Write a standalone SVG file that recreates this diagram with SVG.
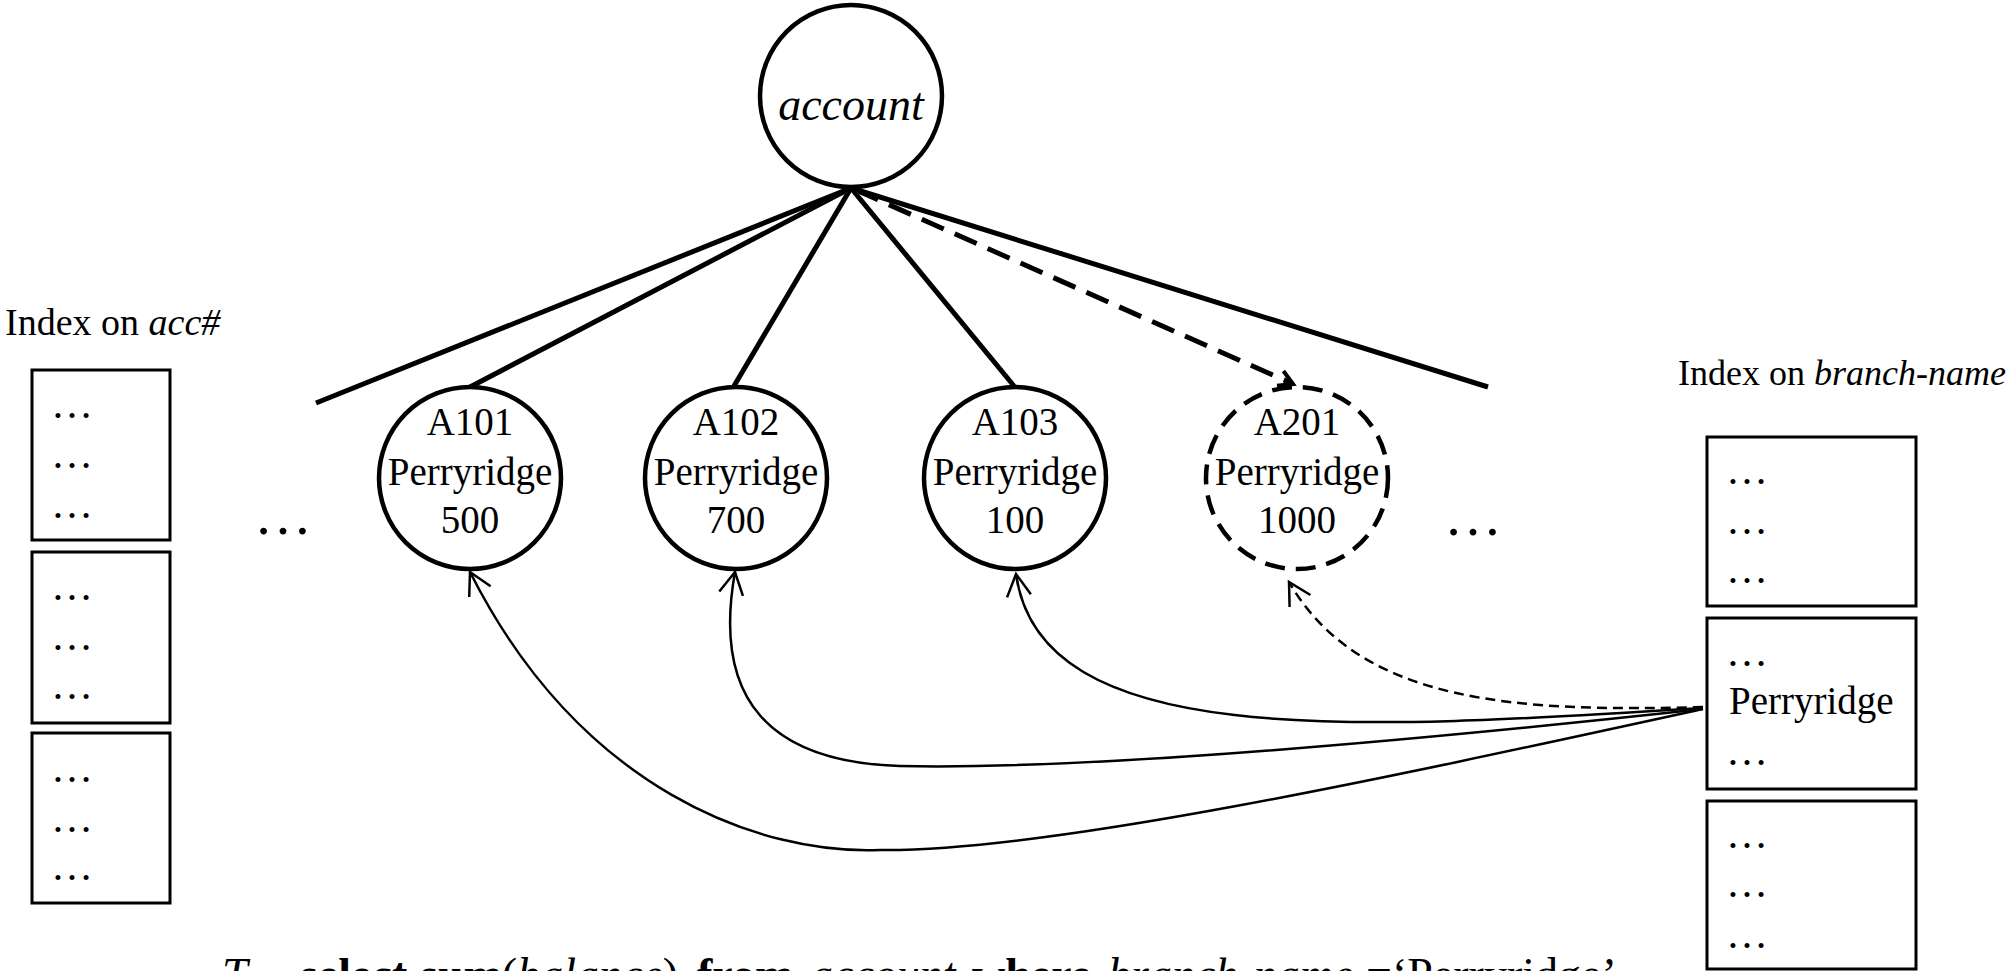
<svg xmlns="http://www.w3.org/2000/svg" width="2013" height="971" viewBox="0 0 2013 971">
<style>
  .t { font-family: "Liberation Serif", "Times New Roman", serif; fill: #000; }
  .it { font-style: italic; }
  .bd { font-weight: bold; }
  .node { fill: #fff; stroke: #000; stroke-width: 4.5; }
  .dnode { fill: #fff; stroke: #000; stroke-width: 4.5; stroke-dasharray: 20 11; }
  .box { fill: #fff; stroke: #000; stroke-width: 3; }
  .edge { stroke: #000; stroke-width: 5; fill: none; }
  .dedge { stroke: #000; stroke-width: 5; fill: none; stroke-dasharray: 24 12; }
  .ptr { stroke: #000; stroke-width: 2.5; fill: none; }
  .dptr { stroke: #000; stroke-width: 2.5; fill: none; stroke-dasharray: 10 6; }
  .lbl { font-size: 39px; text-anchor: middle; }
  .dots { font-size: 42px; }
  .bigdots { font-size: 58px; }
  .q { font-size: 46px; }
</style>
<defs>
  <marker id="open" markerUnits="userSpaceOnUse" markerWidth="30" markerHeight="30" viewBox="-24 -15 28 30" refX="0" refY="0" orient="auto">
    <path d="M -22 -12 L 0 0 L -22 12" fill="none" stroke="#000" stroke-width="2.5"/>
  </marker>
  <marker id="openThick" markerUnits="userSpaceOnUse" markerWidth="30" markerHeight="30" viewBox="-24 -15 28 30" refX="0" refY="0" orient="auto">
    <path d="M -14 -8 L 0 0 L -14 8" fill="none" stroke="#000" stroke-width="4"/>
  </marker>
</defs>

<g id="connectors">
  <line class="edge" x1="851" y1="188" x2="316" y2="403"/>
  <line class="edge" x1="851" y1="188" x2="470" y2="387"/>
  <line class="edge" x1="851" y1="188" x2="734" y2="386"/>
  <line class="edge" x1="851" y1="188" x2="1014" y2="386"/>
  <line class="dedge" x1="856" y1="190" x2="1293" y2="384" marker-end="url(#openThick)"/>
  <line class="edge" x1="851" y1="188" x2="1488" y2="387"/>
  <path class="dptr" d="M 1703 707 C 1520 712, 1360 705, 1289 582" marker-end="url(#open)"/>
  <path class="ptr" d="M 1703 708 C 1350 730, 1040 750, 1016 574" marker-end="url(#open)"/>
  <path class="ptr" d="M 1703 709 C 1400 742, 1080 770, 900 766 C 770 762, 712 700, 735 572" marker-end="url(#open)"/>
  <path class="ptr" d="M 1703 709 C 1400 775, 1050 852, 880 850 C 760 855, 580 790, 470 572" marker-end="url(#open)"/>
</g>

<g id="account">
  <circle class="node" cx="851" cy="96" r="91"/>
  <text class="t it" x="851" y="120" font-size="46" text-anchor="middle">account</text>
</g>

<g id="a101">
  <circle class="node" cx="470" cy="478" r="91"/>
  <text class="t lbl" x="470" y="435">A101</text>
  <text class="t lbl" x="470" y="485">Perryridge</text>
  <text class="t lbl" x="470" y="533">500</text>
</g>
<g id="a102">
  <circle class="node" cx="736" cy="478" r="91"/>
  <text class="t lbl" x="736" y="435">A102</text>
  <text class="t lbl" x="736" y="485">Perryridge</text>
  <text class="t lbl" x="736" y="533">700</text>
</g>
<g id="a103">
  <circle class="node" cx="1015" cy="478" r="91"/>
  <text class="t lbl" x="1015" y="435">A103</text>
  <text class="t lbl" x="1015" y="485">Perryridge</text>
  <text class="t lbl" x="1015" y="533">100</text>
</g>
<g id="a201">
  <circle class="dnode" cx="1297" cy="478" r="91"/>
  <text class="t lbl" x="1297" y="435">A201</text>
  <text class="t lbl" x="1297" y="485">Perryridge</text>
  <text class="t lbl" x="1297" y="533">1000</text>
</g>

<g id="ellipsis-left">
  <text class="t bigdots" x="254" y="534">…</text>
</g>
<g id="ellipsis-right">
  <text class="t bigdots" x="1444" y="535">…</text>
</g>

<g id="index-acc">
  <text class="t" x="5" y="335" font-size="38">Index on <tspan class="it">acc#</tspan></text>
  <rect class="box" x="32" y="370" width="138" height="170"/>
  <text class="t dots" x="51" y="418">…</text>
  <text class="t dots" x="51" y="468">…</text>
  <text class="t dots" x="51" y="518">…</text>
  <rect class="box" x="32" y="552" width="138" height="171"/>
  <text class="t dots" x="51" y="600">…</text>
  <text class="t dots" x="51" y="650">…</text>
  <text class="t dots" x="51" y="699">…</text>
  <rect class="box" x="32" y="733" width="138" height="170"/>
  <text class="t dots" x="51" y="782">…</text>
  <text class="t dots" x="51" y="832">…</text>
  <text class="t dots" x="51" y="880">…</text>
</g>

<g id="index-branch">
  <text class="t" x="2006" y="385" font-size="36" text-anchor="end">Index on <tspan class="it">branch-name</tspan></text>
  <rect class="box" x="1707" y="437" width="209" height="169"/>
  <text class="t dots" x="1726" y="484">…</text>
  <text class="t dots" x="1726" y="534">…</text>
  <text class="t dots" x="1726" y="583">…</text>
  <rect class="box" x="1707" y="618" width="209" height="171"/>
  <text class="t dots" x="1726" y="666">…</text>
  <text class="t" x="1729" y="714" font-size="39">Perryridge</text>
  <text class="t dots" x="1726" y="765">…</text>
  <rect class="box" x="1707" y="801" width="209" height="168"/>
  <text class="t dots" x="1726" y="848">…</text>
  <text class="t dots" x="1726" y="897">…</text>
  <text class="t dots" x="1726" y="948">…</text>
</g>

<g id="query">
  <text class="t q" y="990"><tspan class="it" x="222">T</tspan><tspan class="bd" x="300">select</tspan><tspan class="bd" x="420">sum</tspan><tspan>(</tspan><tspan class="it">balance</tspan><tspan>)</tspan><tspan class="bd" x="697">from</tspan><tspan class="it" x="810">account</tspan><tspan class="bd" x="972">where</tspan><tspan class="it" x="1108">branch-name</tspan><tspan x="1366">=‘Perryridge’</tspan></text>
</g>
</svg>
